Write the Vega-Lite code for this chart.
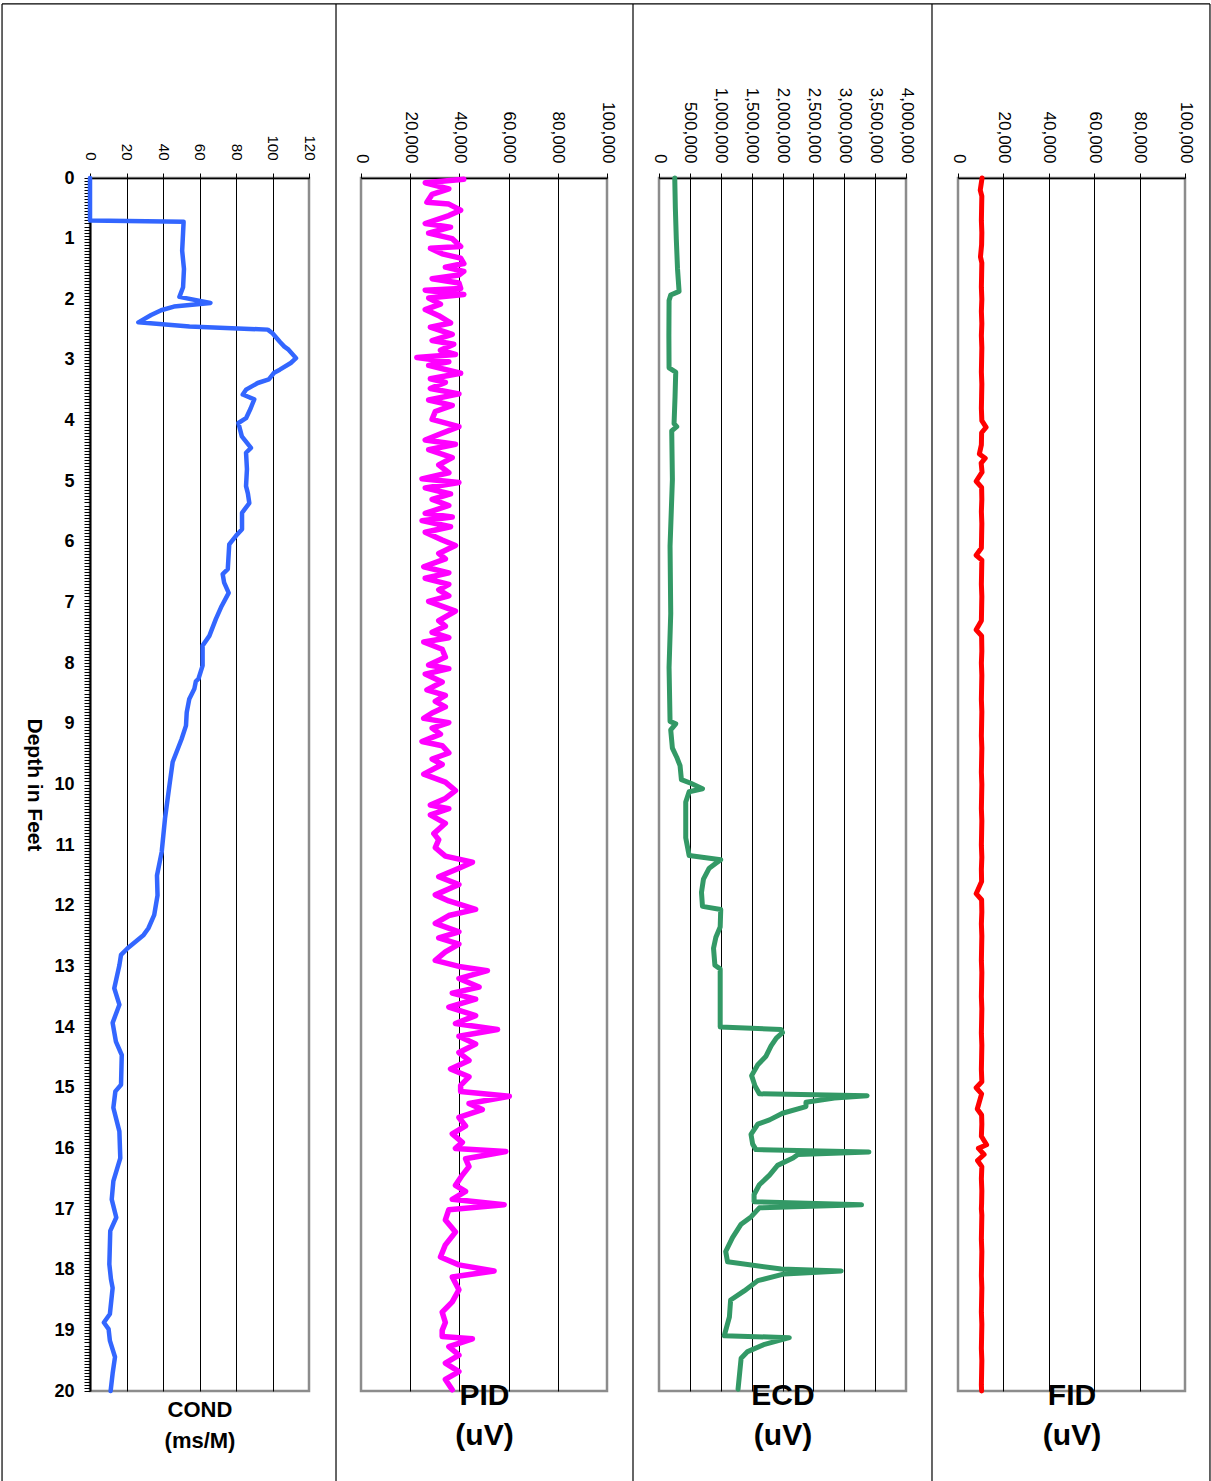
{
  "$schema": "https://vega.github.io/schema/vega-lite/v6.json",
  "padding": {"top": 2, "left": 0, "right": 0, "bottom": 0},
  "background": "white",
  "bounds": "flush",
  "spacing": 52,
  "config": {
    "view": {"stroke": "#8c8c8c", "strokeWidth": 2.5},
    "axis": {"labelFont": "Liberation Sans", "titleFont": "Liberation Sans", "labelColor": "black", "titleColor": "black", "domainColor": "black", "tickColor": "black", "gridColor": "black"},
    "title": {"font": "Liberation Sans", "color": "black"}
  },
  "datasets": {
    "cond": [
      {"d":0,"v":0},{"d":0.7,"v":0},{"d":0.72,"v":51.3},{"d":0.9,"v":51},{"d":1.2,"v":50.5},{"d":1.5,"v":51.5},{"d":1.8,"v":51},{"d":1.96,"v":49},{"d":2.06,"v":66},{"d":2.12,"v":46},{"d":2.18,"v":39},{"d":2.26,"v":33.5},{"d":2.38,"v":26.5},{"d":2.45,"v":54.5},{"d":2.5,"v":97.4},{"d":2.56,"v":100},{"d":2.7,"v":104},{"d":2.78,"v":106.5},{"d":2.83,"v":108.8},{"d":2.97,"v":112.9},{"d":3.05,"v":110},{"d":3.16,"v":104},{"d":3.21,"v":100.9},{"d":3.32,"v":98},{"d":3.38,"v":91.9},{"d":3.49,"v":85.5},{"d":3.57,"v":83.7},{"d":3.65,"v":90},{"d":3.8,"v":88},{"d":3.96,"v":85.5},{"d":4.04,"v":81.3},{"d":4.26,"v":83.2},{"d":4.45,"v":88.2},{"d":4.53,"v":85.5},{"d":4.8,"v":86},{"d":5.08,"v":85.5},{"d":5.2,"v":86.5},{"d":5.36,"v":87.3},{"d":5.52,"v":83.3},{"d":5.79,"v":83.3},{"d":5.9,"v":80},{"d":6.04,"v":76.3},{"d":6.45,"v":75.5},{"d":6.53,"v":72.7},{"d":6.67,"v":73.5},{"d":6.84,"v":76},{"d":7.06,"v":72.1},{"d":7.27,"v":69},{"d":7.55,"v":65.4},{"d":7.71,"v":61.7},{"d":8.04,"v":61.7},{"d":8.26,"v":59.4},{"d":8.3,"v":58},{"d":8.42,"v":57.2},{"d":8.59,"v":54.4},{"d":8.81,"v":53},{"d":9.03,"v":52.6},{"d":9.25,"v":50.2},{"d":9.63,"v":45.3},{"d":10.02,"v":43.5},{"d":10.56,"v":41.1},{"d":11.11,"v":39.3},{"d":11.5,"v":36.7},{"d":11.83,"v":37},{"d":12.15,"v":35.2},{"d":12.37,"v":32},{"d":12.48,"v":29.4},{"d":12.7,"v":20.6},{"d":12.81,"v":17},{"d":12.98,"v":16.1},{"d":13.36,"v":13.3},{"d":13.63,"v":16.1},{"d":13.93,"v":12.4},{"d":14.24,"v":14.2},{"d":14.46,"v":17.4},{"d":14.95,"v":17},{"d":15.06,"v":13.9},{"d":15.33,"v":12.8},{"d":15.72,"v":16.1},{"d":16.16,"v":16.6},{"d":16.54,"v":12.8},{"d":16.84,"v":11.9},{"d":17.14,"v":14.4},{"d":17.36,"v":11.1},{"d":17.91,"v":10.6},{"d":18.16,"v":11.5},{"d":18.3,"v":12.4},{"d":18.73,"v":10.9},{"d":18.87,"v":7.6},{"d":18.98,"v":10.2},{"d":19.17,"v":10.9},{"d":19.44,"v":13.7},{"d":19.71,"v":12.4},{"d":20,"v":11.3}
    ],
    "pid": [
      {"d":0.02,"v":41800},{"d":0.08,"v":26100},{"d":0.18,"v":35700},{"d":0.27,"v":28900},{"d":0.4,"v":26800},{"d":0.43,"v":35700},{"d":0.53,"v":40500},{"d":0.62,"v":35700},{"d":0.75,"v":26100},{"d":0.81,"v":36400},{"d":0.91,"v":27500},{"d":1.0,"v":37100},{"d":1.13,"v":40500},{"d":1.16,"v":28200},{"d":1.25,"v":33000},{"d":1.32,"v":40500},{"d":1.41,"v":41800},{"d":1.47,"v":34300},{"d":1.54,"v":41800},{"d":1.6,"v":39800},{"d":1.66,"v":28900},{"d":1.73,"v":39800},{"d":1.82,"v":40500},{"d":1.85,"v":26100},{"d":1.92,"v":41800},{"d":1.98,"v":27500},{"d":2.08,"v":32300},{"d":2.17,"v":26100},{"d":2.27,"v":31600},{"d":2.39,"v":36400},{"d":2.46,"v":28200},{"d":2.58,"v":37100},{"d":2.68,"v":28900},{"d":2.74,"v":37700},{"d":2.84,"v":32300},{"d":2.91,"v":38400},{"d":2.96,"v":22700},{"d":3.03,"v":35700},{"d":3.09,"v":27500},{"d":3.22,"v":40500},{"d":3.31,"v":28200},{"d":3.37,"v":34300},{"d":3.47,"v":28200},{"d":3.56,"v":39800},{"d":3.66,"v":27500},{"d":3.75,"v":37100},{"d":3.85,"v":30200},{"d":3.98,"v":28900},{"d":4.1,"v":39800},{"d":4.23,"v":31600},{"d":4.32,"v":26100},{"d":4.39,"v":38400},{"d":4.48,"v":27500},{"d":4.61,"v":37100},{"d":4.73,"v":31600},{"d":4.86,"v":35700},{"d":4.96,"v":24800},{"d":5.02,"v":39800},{"d":5.11,"v":26100},{"d":5.21,"v":36400},{"d":5.3,"v":28900},{"d":5.4,"v":35700},{"d":5.53,"v":26100},{"d":5.59,"v":37100},{"d":5.65,"v":24800},{"d":5.75,"v":36400},{"d":5.84,"v":26100},{"d":5.97,"v":33000},{"d":6.06,"v":38400},{"d":6.19,"v":31600},{"d":6.28,"v":34300},{"d":6.41,"v":25500},{"d":6.51,"v":35700},{"d":6.6,"v":26100},{"d":6.7,"v":35700},{"d":6.79,"v":31600},{"d":6.89,"v":35700},{"d":6.98,"v":27500},{"d":7.14,"v":38400},{"d":7.3,"v":31600},{"d":7.39,"v":34300},{"d":7.49,"v":28900},{"d":7.58,"v":35700},{"d":7.65,"v":25500},{"d":7.77,"v":33000},{"d":7.9,"v":34300},{"d":8.03,"v":27500},{"d":8.09,"v":35700},{"d":8.18,"v":26100},{"d":8.31,"v":33000},{"d":8.44,"v":26800},{"d":8.53,"v":34300},{"d":8.63,"v":30200},{"d":8.72,"v":34300},{"d":8.82,"v":28900},{"d":8.91,"v":25500},{"d":8.98,"v":35700},{"d":9.07,"v":28900},{"d":9.17,"v":32300},{"d":9.29,"v":24800},{"d":9.36,"v":33000},{"d":9.48,"v":35700},{"d":9.58,"v":28900},{"d":9.67,"v":33000},{"d":9.83,"v":25500},{"d":9.96,"v":34300},{"d":10.1,"v":38400},{"d":10.23,"v":34300},{"d":10.34,"v":28200},{"d":10.4,"v":35700},{"d":10.5,"v":28200},{"d":10.64,"v":34300},{"d":10.81,"v":29600},{"d":10.91,"v":31600},{"d":11.04,"v":30200},{"d":11.18,"v":34300},{"d":11.28,"v":45300},{"d":11.38,"v":39800},{"d":11.52,"v":31600},{"d":11.65,"v":39800},{"d":11.82,"v":30200},{"d":11.92,"v":35700},{"d":12.06,"v":46600},{"d":12.16,"v":35700},{"d":12.29,"v":30200},{"d":12.43,"v":39800},{"d":12.53,"v":31600},{"d":12.63,"v":39800},{"d":12.76,"v":34300},{"d":12.9,"v":30200},{"d":13.0,"v":39800},{"d":13.07,"v":51400},{"d":13.2,"v":39800},{"d":13.34,"v":48000},{"d":13.44,"v":37100},{"d":13.54,"v":46600},{"d":13.67,"v":35700},{"d":13.81,"v":46600},{"d":13.94,"v":38400},{"d":14.04,"v":55500},{"d":14.15,"v":39800},{"d":14.28,"v":46600},{"d":14.42,"v":39800},{"d":14.55,"v":43900},{"d":14.69,"v":36400},{"d":14.82,"v":43900},{"d":14.96,"v":40500},{"d":15.06,"v":40500},{"d":15.14,"v":60300},{"d":15.26,"v":43900},{"d":15.36,"v":49300},{"d":15.49,"v":39800},{"d":15.63,"v":42500},{"d":15.76,"v":37100},{"d":15.9,"v":41200},{"d":16.0,"v":38400},{"d":16.05,"v":58900},{"d":16.17,"v":42500},{"d":16.3,"v":43900},{"d":16.44,"v":41200},{"d":16.61,"v":38400},{"d":16.71,"v":42500},{"d":16.84,"v":37100},{"d":16.93,"v":58200},{"d":17.01,"v":35700},{"d":17.18,"v":34300},{"d":17.38,"v":38400},{"d":17.59,"v":34300},{"d":17.79,"v":32300},{"d":17.92,"v":39800},{"d":18.02,"v":54100},{"d":18.12,"v":37100},{"d":18.33,"v":39800},{"d":18.53,"v":37100},{"d":18.7,"v":33000},{"d":18.87,"v":34300},{"d":19.0,"v":33000},{"d":19.1,"v":33000},{"d":19.14,"v":45300},{"d":19.27,"v":35700},{"d":19.41,"v":39800},{"d":19.54,"v":34300},{"d":19.68,"v":39800},{"d":19.81,"v":34300},{"d":19.98,"v":37100}
    ],
    "ecd": [
      {"d":0,"v":255000},{"d":0.5,"v":265000},{"d":1.0,"v":280000},{"d":1.5,"v":300000},{"d":1.87,"v":325000},{"d":1.93,"v":190000},{"d":2.02,"v":163000},{"d":2.6,"v":160000},{"d":3.13,"v":163000},{"d":3.2,"v":271000},{"d":3.6,"v":260000},{"d":4.05,"v":244000},{"d":4.1,"v":287000},{"d":4.17,"v":206000},{"d":4.97,"v":217000},{"d":6.07,"v":179000},{"d":7.18,"v":190000},{"d":8.07,"v":163000},{"d":8.96,"v":179000},{"d":9.0,"v":271000},{"d":9.1,"v":190000},{"d":9.4,"v":217000},{"d":9.55,"v":287000},{"d":9.69,"v":341000},{"d":9.92,"v":363000},{"d":9.98,"v":515000},{"d":10.07,"v":704000},{"d":10.12,"v":488000},{"d":10.29,"v":433000},{"d":10.88,"v":433000},{"d":11.17,"v":488000},{"d":11.24,"v":1000000},{"d":11.3,"v":921000},{"d":11.38,"v":813000},{"d":11.56,"v":720000},{"d":11.78,"v":688000},{"d":12.01,"v":704000},{"d":12.06,"v":1000000},{"d":12.35,"v":991000},{"d":12.52,"v":921000},{"d":12.7,"v":883000},{"d":12.98,"v":905000},{"d":13.04,"v":991000},{"d":14.0,"v":991000},{"d":14.04,"v":1977000},{"d":14.09,"v":2000000},{"d":14.18,"v":1900000},{"d":14.31,"v":1815000},{"d":14.48,"v":1733000},{"d":14.62,"v":1600000},{"d":14.8,"v":1500000},{"d":14.97,"v":1555000},{"d":15.1,"v":1625000},{"d":15.13,"v":3370000},{"d":15.17,"v":2840000},{"d":15.24,"v":2380000},{"d":15.31,"v":2380000},{"d":15.42,"v":2000000},{"d":15.53,"v":1790000},{"d":15.6,"v":1600000},{"d":15.77,"v":1490000},{"d":15.93,"v":1517000},{"d":16.02,"v":1570000},{"d":16.06,"v":3400000},{"d":16.1,"v":2250000},{"d":16.16,"v":2170000},{"d":16.28,"v":1920000},{"d":16.44,"v":1790000},{"d":16.6,"v":1625000},{"d":16.76,"v":1540000},{"d":16.88,"v":1540000},{"d":16.93,"v":3280000},{"d":16.98,"v":1625000},{"d":17.13,"v":1490000},{"d":17.25,"v":1330000},{"d":17.47,"v":1190000},{"d":17.7,"v":1080000},{"d":17.87,"v":1110000},{"d":17.99,"v":1980000},{"d":18.02,"v":2950000},{"d":18.07,"v":2030000},{"d":18.18,"v":1600000},{"d":18.35,"v":1380000},{"d":18.5,"v":1160000},{"d":18.78,"v":1140000},{"d":19.09,"v":1056000},{"d":19.12,"v":2110000},{"d":19.23,"v":1710000},{"d":19.35,"v":1435000},{"d":19.46,"v":1330000},{"d":19.97,"v":1280000}
    ],
    "fid": [
      {"d":0,"v":10600},{"d":0.1,"v":10200},{"d":0.2,"v":9800},{"d":0.3,"v":10500},{"d":0.5,"v":10400},{"d":0.7,"v":10300},{"d":0.9,"v":10500},{"d":1.1,"v":10400},{"d":1.3,"v":9900},{"d":1.4,"v":10500},{"d":1.6,"v":10400},{"d":1.8,"v":10300},{"d":2.0,"v":10500},{"d":2.2,"v":10300},{"d":2.4,"v":10500},{"d":2.6,"v":10300},{"d":2.8,"v":10500},{"d":3.0,"v":10400},{"d":3.2,"v":10300},{"d":3.4,"v":10500},{"d":3.6,"v":10400},{"d":3.8,"v":10300},{"d":4.0,"v":10500},{"d":4.11,"v":12400},{"d":4.2,"v":10400},{"d":4.4,"v":10300},{"d":4.55,"v":9400},{"d":4.62,"v":12000},{"d":4.7,"v":10200},{"d":4.85,"v":10600},{"d":5.0,"v":8000},{"d":5.1,"v":10400},{"d":5.3,"v":10500},{"d":5.5,"v":10300},{"d":5.7,"v":10500},{"d":5.9,"v":10400},{"d":6.1,"v":10300},{"d":6.22,"v":8000},{"d":6.3,"v":10500},{"d":6.5,"v":10400},{"d":6.7,"v":10300},{"d":6.9,"v":10500},{"d":7.1,"v":10400},{"d":7.3,"v":10300},{"d":7.45,"v":8000},{"d":7.55,"v":10400},{"d":7.8,"v":10500},{"d":8.0,"v":10300},{"d":8.2,"v":10500},{"d":8.4,"v":10400},{"d":8.6,"v":10300},{"d":8.8,"v":10500},{"d":9.0,"v":10400},{"d":9.2,"v":10300},{"d":9.4,"v":10500},{"d":9.6,"v":10400},{"d":9.8,"v":10300},{"d":10.0,"v":10500},{"d":10.2,"v":10400},{"d":10.4,"v":10300},{"d":10.6,"v":10500},{"d":10.8,"v":10400},{"d":11.0,"v":10300},{"d":11.2,"v":10500},{"d":11.4,"v":10300},{"d":11.6,"v":10400},{"d":11.8,"v":8000},{"d":11.9,"v":10400},{"d":12.1,"v":10500},{"d":12.3,"v":10300},{"d":12.5,"v":10500},{"d":12.7,"v":10400},{"d":12.9,"v":10300},{"d":13.1,"v":10500},{"d":13.3,"v":10400},{"d":13.5,"v":10300},{"d":13.7,"v":10500},{"d":13.9,"v":10400},{"d":14.1,"v":10300},{"d":14.3,"v":10500},{"d":14.5,"v":10400},{"d":14.7,"v":10300},{"d":14.9,"v":10500},{"d":15.0,"v":8000},{"d":15.1,"v":10400},{"d":15.35,"v":8500},{"d":15.45,"v":10400},{"d":15.6,"v":10500},{"d":15.8,"v":10300},{"d":15.94,"v":12600},{"d":16.0,"v":9000},{"d":16.1,"v":11500},{"d":16.2,"v":8600},{"d":16.3,"v":10500},{"d":16.5,"v":10300},{"d":16.7,"v":10500},{"d":16.9,"v":10400},{"d":17.0,"v":10300},{"d":17.1,"v":10500},{"d":17.3,"v":10400},{"d":17.5,"v":10300},{"d":17.7,"v":10500},{"d":17.9,"v":10400},{"d":18.1,"v":10300},{"d":18.3,"v":10500},{"d":18.5,"v":10400},{"d":18.7,"v":10300},{"d":18.9,"v":10500},{"d":19.1,"v":10400},{"d":19.3,"v":10300},{"d":19.5,"v":10500},{"d":19.7,"v":10400},{"d":19.9,"v":10300},{"d":20,"v":10400}
    ]
  },
  "hconcat": [
    {
      "width": 219,
      "height": 1213,
      "resolve": {"axis": {"x": "independent"}},
      "layer": [
        {
          "data": {"name": "cond"},
          "mark": {"type": "line", "color": "#3366FF", "strokeWidth": 4.5, "strokeJoin": "round", "strokeCap": "round"},
          "encoding": {
            "x": {"field": "v", "type": "quantitative", "scale": {"domain": [0, 120], "nice": false, "zero": false},
              "axis": {"orient": "top", "values": [0, 20, 40, 60, 80, 100, 120], "labelAngle": 90, "labelAlign": "right", "labelBaseline": "middle", "labelFontSize": 15, "labelPadding": 13, "labelFlush": false, "labelOverlap": false, "tickSize": 5, "tickWidth": 1, "domainWidth": 1.5, "grid": false, "title": null}},
            "y": {"field": "d", "type": "quantitative", "scale": {"domain": [0, 20], "reverse": true, "nice": false, "zero": false},
              "axis": {"orient": "left", "tickCount": 400, "labelExpr": "datum.value % 1 === 0 ? format(datum.value, 'd') : ''", "labelFontSize": 18, "labelFontWeight": "bold", "labelPadding": 10, "labelOverlap": false, "labelFlush": false, "tickSize": 6, "tickWidth": 1, "domainWidth": 2, "grid": false, "title": "Depth in Feet", "titleAngle": 90, "titleBaseline": "top", "titleFontSize": 21, "titleFontWeight": "bold", "titlePadding": 9}},
            "order": {"field": "d", "type": "quantitative"}
          }
        },
        {
          "data": {"values": [{}]},
          "mark": {"type": "rule", "clip": false, "color": "black", "strokeWidth": 1.2},
          "encoding": {
            "x": {"datum": 134.8, "type": "quantitative", "axis": {"orient": "bottom", "values": [20, 40, 60, 80, 100], "labels": false, "ticks": false, "domain": false, "grid": true, "gridColor": "black", "gridWidth": 1, "title": ["COND", "(ms/M)"], "titleFontSize": 22, "titleFontWeight": "bold", "titleLineHeight": 31, "titlePadding": 8}},
            "y": {"datum": -2.87, "type": "quantitative"},
            "y2": {"datum": 21.5}
          }
        },
        {
          "data": {"values": [{}]},
          "mark": {"type": "rule", "clip": false, "color": "black", "strokeWidth": 1.2},
          "encoding": {"x": {"datum": -48.2, "type": "quantitative", "axis": null}, "y": {"datum": -2.87, "type": "quantitative"}, "y2": {"datum": 21.5}}
        },
        {
          "data": {"values": [{}]},
          "mark": {"type": "rule", "clip": false, "color": "black", "strokeWidth": 1.2},
          "encoding": {"x": {"datum": -48.2, "type": "quantitative", "axis": null}, "x2": {"datum": 613.7}, "y": {"datum": -2.87, "type": "quantitative"}}
        }
      ]
    },
    {
      "width": 246,
      "height": 1213,
      "resolve": {"axis": {"x": "independent"}},
      "layer": [
        {
          "data": {"name": "pid"},
          "mark": {"type": "line", "color": "#FF00FF", "strokeWidth": 5.5, "strokeJoin": "round", "strokeCap": "round"},
          "encoding": {
            "x": {"field": "v", "type": "quantitative", "scale": {"domain": [0, 100000], "nice": false, "zero": false},
              "axis": {"orient": "top", "values": [0, 20000, 40000, 60000, 80000, 100000], "labelExpr": "format(datum.value, ',')", "labelAngle": 90, "labelAlign": "right", "labelBaseline": "middle", "labelFontSize": 17, "labelPadding": 10, "labelFlush": false, "labelOverlap": false, "tickSize": 5, "tickWidth": 1, "domainWidth": 1.5, "grid": false, "title": null}},
            "y": {"field": "d", "type": "quantitative", "scale": {"domain": [0, 20], "reverse": true, "nice": false, "zero": false}, "axis": null},
            "order": {"field": "d", "type": "quantitative"}
          }
        },
        {
          "data": {"values": [{}]},
          "mark": {"type": "rule", "clip": false, "color": "black", "strokeWidth": 1.2},
          "encoding": {
            "x": {"datum": 110570, "type": "quantitative", "axis": {"orient": "bottom", "values": [20000, 40000, 60000, 80000], "labels": false, "ticks": false, "domain": false, "grid": true, "gridColor": "black", "gridWidth": 1, "title": ["PID", "(uV)"], "titleFontSize": 30, "titleFontWeight": "bold", "titleLineHeight": 40, "titlePadding": -11}},
            "y": {"datum": -2.87, "type": "quantitative", "axis": null},
            "y2": {"datum": 21.5}
          }
        }
      ]
    },
    {
      "width": 247,
      "height": 1213,
      "resolve": {"axis": {"x": "independent"}},
      "layer": [
        {
          "data": {"name": "ecd"},
          "mark": {"type": "line", "color": "#339966", "strokeWidth": 5, "strokeJoin": "round", "strokeCap": "round"},
          "encoding": {
            "x": {"field": "v", "type": "quantitative", "scale": {"domain": [0, 4000000], "nice": false, "zero": false},
              "axis": {"orient": "top", "values": [0, 500000, 1000000, 1500000, 2000000, 2500000, 3000000, 3500000, 4000000], "labelExpr": "format(datum.value, ',')", "labelAngle": 90, "labelAlign": "right", "labelBaseline": "middle", "labelFontSize": 17, "labelPadding": 10, "labelFlush": false, "labelOverlap": false, "tickSize": 5, "tickWidth": 1, "domainWidth": 1.5, "grid": false, "title": null}},
            "y": {"field": "d", "type": "quantitative", "scale": {"domain": [0, 20], "reverse": true, "nice": false, "zero": false}, "axis": null},
            "order": {"field": "d", "type": "quantitative"}
          }
        },
        {
          "data": {"values": [{}]},
          "mark": {"type": "rule", "clip": false, "color": "black", "strokeWidth": 1.2},
          "encoding": {
            "x": {"datum": 4421000, "type": "quantitative", "axis": {"orient": "bottom", "values": [500000, 1000000, 1500000, 2000000, 2500000, 3000000, 3500000], "labels": false, "ticks": false, "domain": false, "grid": true, "gridColor": "black", "gridWidth": 1, "title": ["ECD", "(uV)"], "titleFontSize": 30, "titleFontWeight": "bold", "titleLineHeight": 40, "titlePadding": -11}},
            "y": {"datum": -2.87, "type": "quantitative", "axis": null},
            "y2": {"datum": 21.5}
          }
        }
      ]
    },
    {
      "width": 227,
      "height": 1213,
      "resolve": {"axis": {"x": "independent"}},
      "layer": [
        {
          "data": {"name": "fid"},
          "mark": {"type": "line", "color": "#FF0000", "strokeWidth": 5, "strokeJoin": "round", "strokeCap": "round"},
          "encoding": {
            "x": {"field": "v", "type": "quantitative", "scale": {"domain": [0, 100000], "nice": false, "zero": false},
              "axis": {"orient": "top", "values": [0, 20000, 40000, 60000, 80000, 100000], "labelExpr": "format(datum.value, ',')", "labelAngle": 90, "labelAlign": "right", "labelBaseline": "middle", "labelFontSize": 17, "labelPadding": 10, "labelFlush": false, "labelOverlap": false, "tickSize": 5, "tickWidth": 1, "domainWidth": 1.5, "grid": false, "title": null}},
            "y": {"field": "d", "type": "quantitative", "scale": {"domain": [0, 20], "reverse": true, "nice": false, "zero": false}, "axis": null},
            "order": {"field": "d", "type": "quantitative"}
          }
        },
        {
          "data": {"values": [{}]},
          "mark": {"type": "rule", "clip": false, "color": "black", "strokeWidth": 1.2},
          "encoding": {
            "x": {"datum": 111000, "type": "quantitative", "axis": {"orient": "bottom", "values": [20000, 40000, 60000, 80000], "labels": false, "ticks": false, "domain": false, "grid": true, "gridColor": "black", "gridWidth": 1, "title": ["FID", "(uV)"], "titleFontSize": 30, "titleFontWeight": "bold", "titleLineHeight": 40, "titlePadding": -11}},
            "y": {"datum": -2.87, "type": "quantitative", "axis": null},
            "y2": {"datum": 21.5}
          }
        }
      ]
    }
  ]
}
